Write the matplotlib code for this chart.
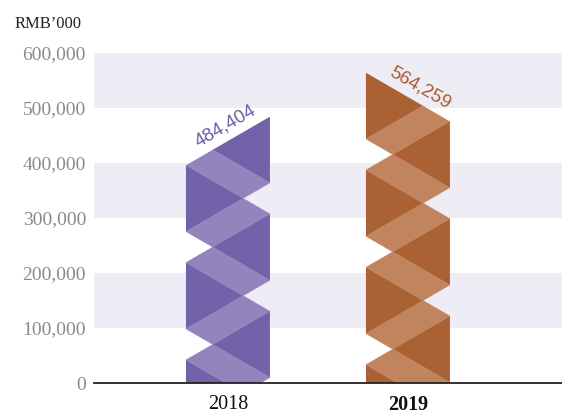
import numpy as np
import matplotlib
matplotlib.use("Agg")
import matplotlib.pyplot as plt
from matplotlib.patches import Polygon

# data
years = ["2018", "2019"]
values = [484404, 564259]
value_labels = ["484,404", "564,259"]
yticks = [0, 100000, 200000, 300000, 400000, 500000, 600000]
unit_label = "RMB\u2019000"

dark_colors = ["#7262A9", "#AA6234"]
light_colors = ["#9384BE", "#C0855F"]
text_colors = ["#6B5BA6", "#A95A2B"]
band_color = "#EEEDF6"

# ribbon geometry (data units)
BAR_W = 0.467
DROP = 88500      # vertical drop of a diagonal across the bar
THICK = 56500     # vertical thickness of one fold of the ribbon

plt.rcParams["font.family"] = ["Liberation Serif", "DejaVu Serif"]

fig = plt.figure(figsize=(5.62, 4.15), dpi=100)
ax = fig.add_axes([94 / 562, 32 / 415, 468 / 562, 330 / 415])
ax.set_xlim(-0.744, 1.856)
ax.set_ylim(0, 600000)

# alternating background bands
for lo, hi in zip(yticks[1::2], yticks[2::2]):
    ax.axhspan(lo, hi, color=band_color, lw=0, zorder=0)


def ribbon_bar(ax, xc, v, dark, light, mirror):
    L, R = xc - BAR_W / 2, xc + BAR_W / 2
    d = BAR_W * THICK / (2 * DROP)
    if not mirror:
        outline = [(L, 0), (R, 0), (R, v), (L, v - DROP)]
    else:
        outline = [(L, 0), (R, 0), (R, v - DROP), (L, v)]
    clip = Polygon(outline, closed=True, fc="none", ec="none")
    ax.add_patch(clip)

    g0 = v - DROP + THICK

    def side(j):
        left = (j % 2 == 0) != mirror
        return L if left else R

    def g(j):
        return g0 - j * DROP

    def apex(j):
        s = side(j)
        return (s + d if s == L else s - d, g(j) - THICK / 2)

    n = int(v / DROP) + 4
    for k in range(0, n):
        tri = [(side(k - 1), g(k - 1) - THICK), apex(k), (side(k + 1), g(k + 1))]
        p = Polygon(tri, closed=True, fc=dark, ec=dark, lw=0.3, zorder=2)
        ax.add_patch(p)
        p.set_clip_path(clip)
        if k >= 1:
            quad = [(side(k - 1), g(k - 1) - THICK), apex(k - 1),
                    (side(k), g(k)), apex(k)]
            p = Polygon(quad, closed=True, fc=light, ec=light, lw=0.3, zorder=2)
            ax.add_patch(p)
            p.set_clip_path(clip)
    return L, R


xs = np.arange(len(years))
for i, (x, v) in enumerate(zip(xs, values)):
    mirror = i == 1
    L, R = ribbon_bar(ax, x, v, dark_colors[i], light_colors[i], mirror)
    if not mirror:
        p1, p2 = (L, v - DROP), (R, v)
    else:
        p1, p2 = (L, v), (R, v - DROP)
    a = ax.transData.transform(p1)
    b = ax.transData.transform(p2)
    ang = np.degrees(np.arctan2(b[1] - a[1], b[0] - a[0]))
    th = np.radians(ang)
    off = 7.0
    along = 4.0
    dx = -np.sin(th) * off + np.cos(th) * along
    dy = np.cos(th) * off + np.sin(th) * along
    ax.annotate(value_labels[i], xy=(x, v - DROP / 2), xytext=(dx, dy),
                textcoords="offset points", rotation=ang, rotation_mode="anchor",
                ha="center", va="baseline", fontsize=13.5, color=text_colors[i],
                family=["Liberation Sans", "DejaVu Sans"], zorder=4)

# axes styling
for s in ["top", "right", "left"]:
    ax.spines[s].set_visible(False)
ax.spines["bottom"].set_color("#222222")
ax.spines["bottom"].set_linewidth(1.3)
ax.spines["bottom"].set_zorder(5)

ax.set_yticks(yticks)
ax.set_yticklabels([f"{t:,}" for t in yticks])
ax.tick_params(axis="y", length=0, pad=5.8, labelsize=14, labelcolor="#8A8A8A")
ax.set_xticks(xs)
ax.set_xticklabels(years)
ax.tick_params(axis="x", length=0, pad=8.5, labelsize=14.5, labelcolor="#111111")
ax.get_xticklabels()[1].set_fontweight("bold")

fig.text(15 / 562, (415 - 28) / 415, unit_label, fontsize=12, color="#222222",
         ha="left", va="baseline")

fig.savefig("out.png", dpi=100, facecolor="white")
